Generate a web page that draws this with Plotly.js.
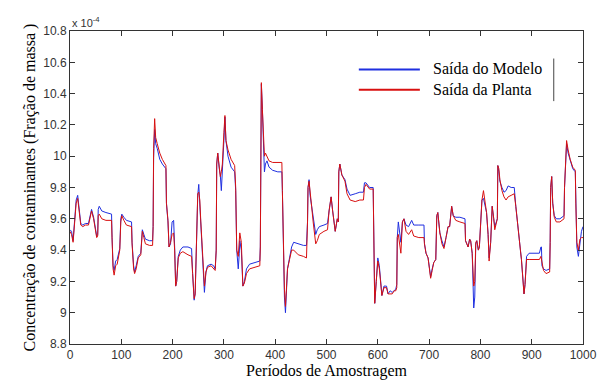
<!DOCTYPE html>
<html>
<head>
<meta charset="utf-8">
<script src="https://cdn.plot.ly/plotly-3.0.1.min.js"></script>
<style>
html,body{margin:0;padding:0;background:#fff;}
#chart{width:605px;height:388px;}
</style>
</head>
<body>
<div id="chart"></div>
<script>
// Sample index (Períodos de Amostragem) of the points
const periodos = [0,3,6,9,12,15,18,21,25,30,36,39,42,46,49,52,54,55,57,62,70,81,82,84,86,89,92,94,97,99,101,105,110,120,121,124,126,129,133,138,140,141,144,147,155,161,162,163,165,167,170,175,180,187,188,191,193,196,199,202,204,206,208,211,215,220,230,237,239,242,244,247,249,251,253,255,258,260,262,265,268,275,280,283,285,286,288,291,293,295,297,300,302,304,308,314,321,323,325,328,330,331,334,337,340,344,350,360,370,371,372,373,375,377,379,381,384,388,395,405,413,414,416,418,420,422,424,428,432,436,445,455,461,463,464,466,468,471,474,476,479,482,486,495,502,505,509,512,515,517,521,523,524,526,530,536,540,546,556,565,572,574,577,584,591,592,594,597,600,603,606,608,612,617,620,624,628,632,635,637,638,640,643,645,648,651,655,660,666,670,680,690,691,694,698,701,703,706,709,713,715,717,721,725,729,733,737,740,744,747,752,760,770,771,774,776,779,781,784,786,787,789,791,793,796,798,803,806,809,812,815,817,820,823,826,828,833,834,836,838,842,846,850,854,860,866,869,872,875,878,880,883,885,887,890,895,905,915,918,919,920,923,928,935,936,937,939,941,944,948,955,963,964,966,968,971,975,980,985,986,988,991,994,997,1000];

// Saída do Modelo (x 10^-4)
const saidaModelo = [9.53,9.52,9.46,9.62,9.72,9.75,9.66,9.57,9.56,9.57,9.57,9.62,9.66,9.61,9.55,9.49,9.50,9.66,9.68,9.65,9.64,9.63,9.48,9.30,9.27,9.33,9.34,9.37,9.41,9.60,9.63,9.61,9.59,9.58,9.45,9.30,9.26,9.30,9.36,9.38,9.50,9.53,9.50,9.47,9.46,9.46,9.55,9.99,10.17,10.08,10.05,9.98,9.95,9.92,9.70,9.58,9.42,9.44,9.58,9.59,9.42,9.17,9.20,9.36,9.40,9.42,9.42,9.41,9.25,9.08,9.12,9.55,9.75,9.82,9.70,9.57,9.38,9.25,9.13,9.26,9.30,9.31,9.30,9.28,9.40,9.95,10.02,9.92,9.88,9.78,9.95,10.10,10.25,10.10,10.00,9.93,9.90,9.78,9.40,9.28,9.38,9.46,9.40,9.17,9.20,9.28,9.31,9.32,9.33,9.42,10.30,10.46,10.30,10.10,9.90,9.95,9.97,9.93,9.91,9.90,9.90,9.78,9.40,9.10,9.00,9.15,9.28,9.35,9.42,9.45,9.44,9.43,9.43,9.58,9.80,9.85,9.75,9.68,9.60,9.55,9.50,9.53,9.55,9.56,9.57,9.65,9.74,9.65,9.56,9.52,9.60,9.58,9.90,9.95,9.88,9.85,9.79,9.75,9.76,9.77,9.77,9.83,9.83,9.80,9.80,9.36,9.06,9.20,9.35,9.30,9.15,9.11,9.17,9.17,9.12,9.14,9.13,9.14,9.15,9.18,9.48,9.58,9.50,9.45,9.58,9.60,9.56,9.55,9.59,9.56,9.56,9.56,9.44,9.38,9.35,9.28,9.23,9.28,9.32,9.34,9.62,9.64,9.51,9.46,9.42,9.48,9.55,9.55,9.68,9.62,9.61,9.61,9.60,9.46,9.44,9.42,9.47,9.46,9.38,9.10,9.03,9.10,9.44,9.46,9.40,9.42,9.72,9.73,9.68,9.64,9.50,9.35,9.45,9.68,9.60,9.55,9.60,9.94,9.90,9.84,9.80,9.77,9.78,9.81,9.80,9.80,9.68,9.57,9.51,9.40,9.34,9.20,9.12,9.18,9.36,9.38,9.38,9.38,9.42,9.42,9.30,9.28,9.27,9.28,9.45,9.80,9.87,9.70,9.62,9.60,9.60,9.62,9.80,9.95,10.08,10.02,9.97,9.92,9.90,9.70,9.42,9.36,9.45,9.52,9.55];

// Saída da Planta (x 10^-4)
const saidaPlanta = [9.52,9.50,9.45,9.60,9.70,9.73,9.65,9.56,9.55,9.56,9.56,9.61,9.65,9.60,9.54,9.48,9.49,9.62,9.63,9.60,9.59,9.59,9.47,9.28,9.24,9.30,9.31,9.35,9.40,9.58,9.62,9.59,9.56,9.55,9.44,9.28,9.25,9.28,9.35,9.37,9.49,9.52,9.48,9.44,9.43,9.43,9.55,10.05,10.24,10.12,10.08,10.02,9.98,9.94,9.70,9.59,9.42,9.45,9.50,9.51,9.40,9.17,9.20,9.35,9.38,9.39,9.37,9.36,9.25,9.09,9.12,9.55,9.76,9.77,9.72,9.58,9.40,9.26,9.17,9.26,9.29,9.30,9.28,9.27,9.40,9.95,10.02,9.90,9.87,9.90,9.95,10.15,10.26,10.10,10.04,9.98,9.94,9.80,9.40,9.36,9.48,9.51,9.45,9.17,9.19,9.25,9.28,9.29,9.30,9.42,10.30,10.47,10.30,10.12,10.00,10.02,10.00,9.97,9.96,9.96,9.96,9.78,9.40,9.15,9.04,9.18,9.28,9.34,9.40,9.40,9.37,9.36,9.35,9.58,9.80,9.84,9.76,9.68,9.58,9.52,9.44,9.46,9.50,9.52,9.53,9.65,9.74,9.65,9.56,9.52,9.60,9.58,9.90,9.95,9.88,9.84,9.76,9.72,9.71,9.72,9.72,9.80,9.82,9.79,9.79,9.36,9.06,9.20,9.33,9.28,9.15,9.11,9.16,9.16,9.12,9.12,9.12,9.14,9.14,9.16,9.48,9.50,9.40,9.38,9.58,9.60,9.52,9.50,9.53,9.49,9.48,9.48,9.44,9.38,9.35,9.28,9.22,9.27,9.32,9.34,9.62,9.64,9.51,9.44,9.41,9.48,9.55,9.55,9.68,9.62,9.59,9.58,9.57,9.46,9.43,9.42,9.47,9.46,9.38,9.17,9.17,9.20,9.45,9.46,9.40,9.42,9.72,9.78,9.70,9.64,9.50,9.33,9.45,9.68,9.60,9.53,9.60,9.94,9.92,9.85,9.78,9.74,9.72,9.74,9.75,9.76,9.68,9.57,9.51,9.40,9.34,9.20,9.12,9.18,9.34,9.34,9.34,9.34,9.36,9.34,9.30,9.27,9.25,9.26,9.45,9.80,9.87,9.70,9.61,9.58,9.58,9.60,9.80,9.95,10.10,10.04,9.98,9.93,9.91,9.70,9.45,9.40,9.47,9.48,9.48];

const seriesNames = ["Saída do Modelo", "Saída da Planta"];
const yTickVals = [8.8, 9, 9.2, 9.4, 9.6, 9.8, 10, 10.2, 10.4, 10.6, 10.8];
const yTickText = ["8.8", "9", "9.2", "9.4", "9.6", "9.8", "10", "10.2", "10.4", "10.6", "10.8"];
const xTickVals = [0, 100, 200, 300, 400, 500, 600, 700, 800, 900, 1000];

const BLUE = "#1f2fe0";
const RED = "#d81010";
const SERIF = "Liberation Serif, Times New Roman, serif";
const SANS = "Liberation Sans, Arial, sans-serif";

const traces = [
  {x: periodos, y: saidaModelo, name: seriesNames[0], type: "scatter", mode: "lines",
   line: {color: BLUE, width: 1}, showlegend: false},
  {x: periodos, y: saidaPlanta, name: seriesNames[1], type: "scatter", mode: "lines",
   line: {color: RED, width: 1}, showlegend: false}
];

const axisCommon = {
  showgrid: false, zeroline: false, showline: true, linecolor: "#333", linewidth: 1,
  mirror: "ticks", ticks: "inside", ticklen: 5, tickcolor: "#333",
  tickfont: {family: SANS, size: 12, color: "#333"}
};

const layout = {
  width: 605, height: 388,
  margin: {l: 70, r: 22, t: 31, b: 44},
  paper_bgcolor: "#fff", plot_bgcolor: "#fff",
  showlegend: false,
  xaxis: Object.assign({}, axisCommon, {
    range: [0, 1000], tickvals: xTickVals, ticktext: xTickVals.map(String),
    title: {text: "Períodos de Amostragem", standoff: 2,
            font: {family: SERIF, size: 16, color: "#000"}}
  }),
  yaxis: Object.assign({}, axisCommon, {
    range: [8.8, 10.8], tickvals: yTickVals, ticktext: yTickText,
    title: {text: "Concentração de contaminantes (Fração de massa )", standoff: 3,
            font: {family: SERIF, size: 16, color: "#000"}}
  }),
  shapes: [
    {type: "line", xref: "paper", yref: "paper", x0: 0.563, x1: 0.682, y0: 0.877, y1: 0.877,
     line: {color: BLUE, width: 2}},
    {type: "line", xref: "paper", yref: "paper", x0: 0.563, x1: 0.682, y0: 0.812, y1: 0.812,
     line: {color: RED, width: 2}},
    {type: "line", xref: "paper", yref: "paper", x0: 0.943, x1: 0.943, y0: 0.776, y1: 0.912,
     line: {color: "#444", width: 1}}
  ],
  annotations: [
    {xref: "paper", yref: "paper", x: 0.704, y: 0.879, xanchor: "left", yanchor: "middle",
     text: seriesNames[0], showarrow: false,
     font: {family: SERIF, size: 16, color: "#000"}},
    {xref: "paper", yref: "paper", x: 0.704, y: 0.814, xanchor: "left", yanchor: "middle",
     text: seriesNames[1], showarrow: false,
     font: {family: SERIF, size: 16, color: "#000"}},
    {xref: "paper", yref: "paper", x: 0.0, y: 1.0, xanchor: "left", yanchor: "bottom",
     text: "x 10<sup>-4</sup>", showarrow: false, xshift: 0, yshift: 0,
     font: {family: SANS, size: 11, color: "#333"}}
  ]
};

Plotly.newPlot("chart", traces, layout, {staticPlot: true, displayModeBar: false});
</script>
</body>
</html>
